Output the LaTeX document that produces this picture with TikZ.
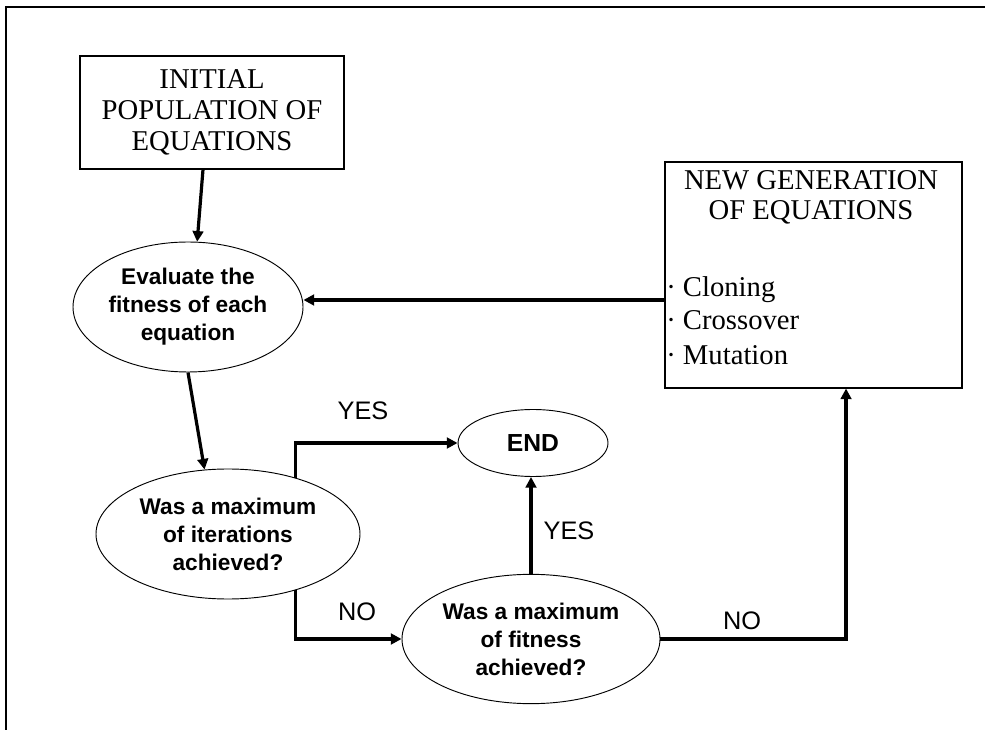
\documentclass[tikz,border=0pt]{standalone}
\usepackage{fontspec}
\setmainfont{Liberation Serif}
\setsansfont{Liberation Sans}
\usetikzlibrary{arrows.meta,shapes.geometric,calc}

\begin{document}
\begin{tikzpicture}[x=0.75pt,y=-0.75pt,
  box/.style={draw, line width=0.8pt, rectangle, inner sep=0pt},
  oval/.style={draw, line width=0.7pt, ellipse, inner sep=0pt, align=center,
    font=\sffamily\bfseries\fontsize{17}{21}\selectfont},
  serifbig/.style={font=\fontsize{21.5}{23}\selectfont},
  flow/.style={line width=2.4pt, -{Triangle[length=8pt,width=8pt]}},
  tag/.style={font=\sffamily\fontsize{19}{22}\selectfont, inner sep=0pt}
]
\useasboundingbox (0,0) rectangle (985,730);

% page frame (top and left edges)
\draw[line width=1.1pt] (6,730) -- (6,7) -- (985,7);

% boxes
\node[box, serifbig, align=center, minimum width=198pt, minimum height=84.75pt]
  (init) at (212,112.5) {INITIAL\\POPULATION OF\\EQUATIONS};

\node[box, minimum width=222.75pt, minimum height=169.5pt] (newgen) at (813.5,275) {};
\node[serifbig, align=center, anchor=north, inner sep=0pt] (ngtitle) at (811,170)
  {NEW GENERATION\\OF EQUATIONS};
\node[serifbig, anchor=base west, inner sep=0pt] (op1) at (666,297) {· Cloning};
\node[serifbig, anchor=base west, inner sep=0pt] (op2) at (666,330) {· Crossover};
\node[serifbig, anchor=base west, inner sep=0pt] (op3) at (666,365) {· Mutation};

% decision / process ovals
\node[oval, minimum width=172.5pt, minimum height=97.5pt] (eval) at (188,307)
  {Evaluate the\\fitness of each\\equation};
\node[oval, minimum width=198pt, minimum height=97.5pt] (iter) at (228,534)
  {Was a maximum\\of iterations\\achieved?};
\node[oval, minimum width=112.5pt, minimum height=50.25pt,
  font=\sffamily\bfseries\fontsize{18.5}{22}\selectfont] (endn) at (533,443) {END};
\node[oval, minimum width=193.5pt, minimum height=97pt] (fit) at (531,639)
  {Was a maximum\\of fitness\\achieved?};

% connectors
\draw[flow] ([xshift=-6.75pt]init.south) -- (eval.82);
\draw[flow] (eval.south) -- (iter.110);
\coordinate (fb) at ([yshift=-18.75pt]newgen.west);
\draw[flow] (fb) -- (fb -| eval.east);
\draw[flow] (iter.40) |- (endn.west);
\draw[flow] (iter.-40) |- (fit.west);
\draw[flow] (fit.north) -- (fit.north |- endn.south);
\coordinate (ng) at ([xshift=24.4pt]newgen.south);
\draw[flow] (fit.east) -| (ng);

% branch labels
\node[tag] (yes1) at (363,411) {YES};
\node[tag] (no1) at (357,612) {NO};
\node[tag] (yes2) at (569,531) {YES};
\node[tag] (no2) at (742,621) {NO};
\end{tikzpicture}
\end{document}
